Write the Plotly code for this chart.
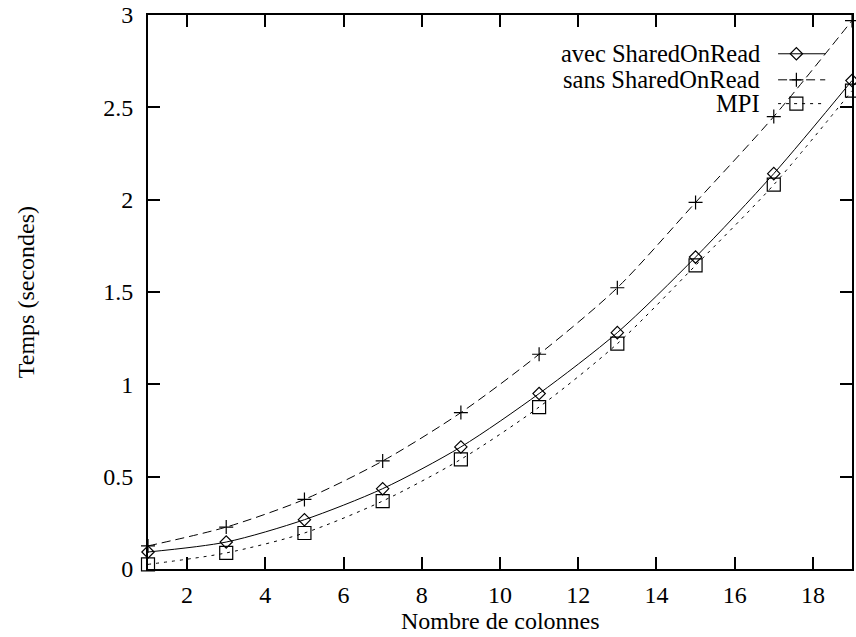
import plotly.graph_objects as go

# Nombre de colonnes
colonnes = [1, 3, 5, 7, 9, 11, 13, 15, 17, 19]

# Temps (secondes) pour chaque version
avec_shared = [0.092, 0.146, 0.267, 0.435, 0.661, 0.950, 1.280, 1.689, 2.141, 2.645]
sans_shared = [0.125, 0.227, 0.377, 0.585, 0.847, 1.163, 1.523, 1.985, 2.450, 2.970]
mpi = [0.025, 0.087, 0.195, 0.368, 0.594, 0.877, 1.220, 1.644, 2.081, 2.590]

series_names = ["avec SharedOnRead", "sans SharedOnRead", "MPI"]
x_ticks = [2, 4, 6, 8, 10, 12, 14, 16, 18]
y_ticks = [0, 0.5, 1, 1.5, 2, 2.5, 3]
y_tick_text = ["0", "0.5", "1", "1.5", "2", "2.5", "3"]

FONT = "Liberation Serif"
FS = 24

styles = [
    dict(dash="solid", symbol="diamond-open", size=9.5),
    dict(dash="9px,5px", symbol="cross-thin-open", size=10),
    dict(dash="3px,5px", symbol="square-open", size=13),
]

fig = go.Figure()
for name, values, st in zip(series_names, [avec_shared, sans_shared, mpi], styles):
    fig.add_trace(go.Scatter(
        x=colonnes, y=values, name=name, mode="lines+markers",
        line=dict(color="black", width=1, dash=st["dash"], shape="spline", smoothing=0.8),
        marker=dict(symbol=st["symbol"], size=st["size"], color="black",
                    line=dict(color="black", width=1.2)),
        cliponaxis=False, showlegend=False,
    ))

# Key in the top-right corner: label on the left, line sample + symbol on the right
key_rows = [0.930, 0.883, 0.840]
key_line = (0.895, 0.962)
key_marker_x = 0.921
key_text_x = 0.8725
for name, st, yk in zip(series_names, styles, key_rows):
    fig.add_shape(type="line", xref="paper", yref="paper",
                  x0=key_line[0], x1=key_line[1], y0=yk, y1=yk,
                  line=dict(color="black", width=1, dash=st["dash"]))
    fig.add_trace(go.Scatter(
        x=[key_marker_x], y=[yk], xaxis="x2", yaxis="y2", mode="markers",
        marker=dict(symbol=st["symbol"], size=st["size"], color="black",
                    line=dict(color="black", width=1.2)),
        showlegend=False, hoverinfo="skip",
    ))
    fig.add_annotation(x=key_text_x, y=yk, xref="paper", yref="paper",
                       text=name, showarrow=False, xanchor="right", yanchor="middle",
                       font=dict(family=FONT, size=24.5, color="black"))

axis_common = dict(
    showline=True, linecolor="black", linewidth=2, mirror="allticks",
    ticks="inside", ticklen=12, tickwidth=1.5, tickcolor="black",
    showgrid=False, zeroline=False,
    tickfont=dict(family=FONT, size=FS, color="black"),
)

fig.update_layout(
    width=856, height=637,
    margin=dict(l=148, r=2, t=14, b=68),
    paper_bgcolor="white", plot_bgcolor="white",
    xaxis=dict(range=[1, 19], tickvals=x_ticks, ticklabelstandoff=3, **axis_common),
    yaxis=dict(range=[0, 3], tickvals=y_ticks, ticktext=y_tick_text,
               ticklabelstandoff=8, **axis_common),
    xaxis2=dict(range=[0, 1], overlaying="x", visible=False),
    yaxis2=dict(range=[0, 1], overlaying="y", visible=False),
    font=dict(family=FONT, size=FS, color="black"),
)

fig.add_annotation(x=0.5, y=-0.094, xref="paper", yref="paper",
                   text="Nombre de colonnes", showarrow=False,
                   xanchor="center", yanchor="middle",
                   font=dict(family=FONT, size=FS, color="black"))
fig.add_annotation(x=-0.173, y=0.5, xref="paper", yref="paper",
                   text="Temps (secondes)", showarrow=False, textangle=-90,
                   xanchor="center", yanchor="middle",
                   font=dict(family=FONT, size=FS, color="black"))

fig.write_html("out.html")
